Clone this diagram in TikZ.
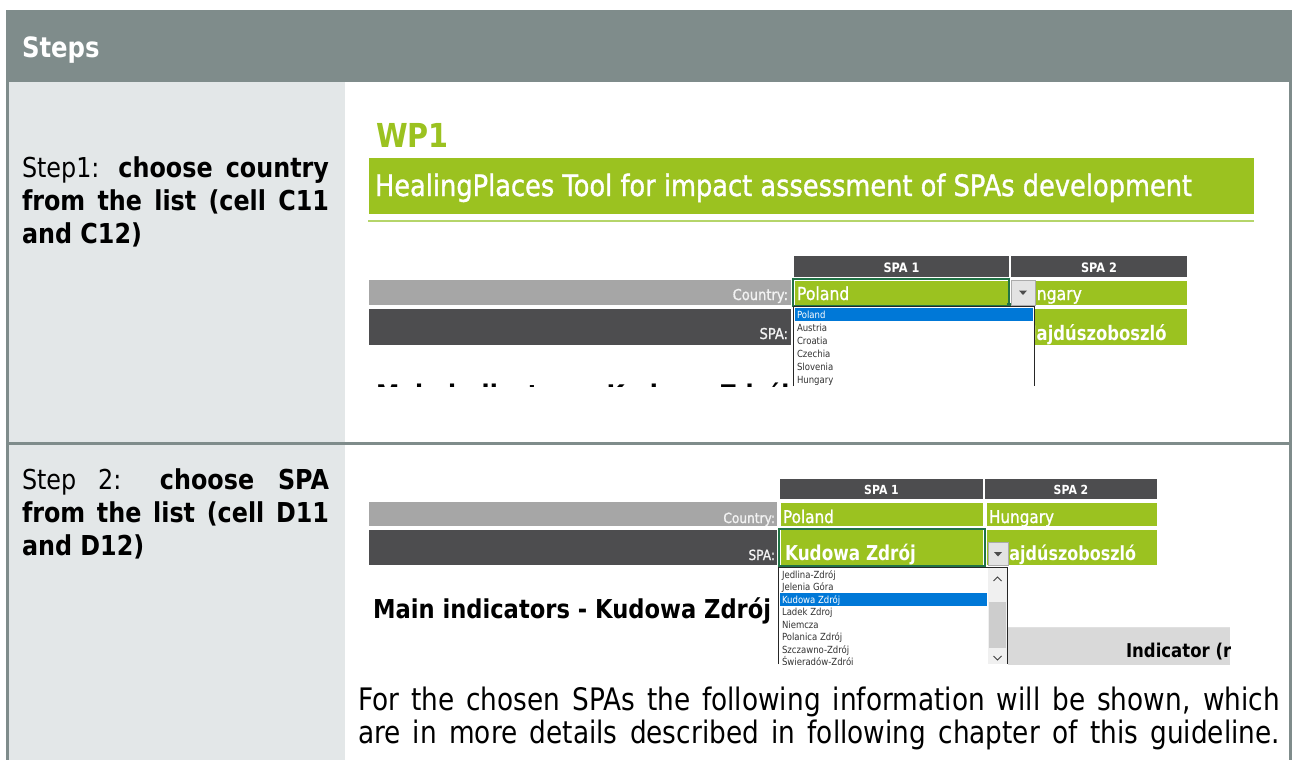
\documentclass[tikz,border=0pt]{standalone}
\usepackage{fontspec}
\setmainfont{DejaVu Sans}[FakeStretch=0.87]
\newfontfamily\parafont{DejaVu Sans}[FakeStretch=0.85]
\newfontfamily\heavyfont{DejaVu Sans}[FakeStretch=0.87,FakeBold=1.2]
\newfontfamily\cellfont{DejaVu Sans}[FakeStretch=0.82]
\newcommand\setfs[1]{\fontsize{#1}{#1}\selectfont}
\newcommand\setfsl[2]{\fontsize{#1}{#2}\selectfont}
\definecolor{hdr}{HTML}{7F8C8B}
\definecolor{leftbg}{HTML}{E3E7E8}
\definecolor{lime}{HTML}{9BC220}
\definecolor{limeline}{HTML}{B5D56A}
\definecolor{darkbar}{HTML}{4D4D4F}
\definecolor{lightbar}{HTML}{A6A6A6}
\definecolor{selgreen}{HTML}{217346}
\definecolor{selblue}{HTML}{0078D7}
\definecolor{btnfill}{HTML}{E3E3E3}
\definecolor{btnline}{HTML}{ABABAB}
\definecolor{itemtxt}{HTML}{333333}
\definecolor{scrollbg}{HTML}{F0F0F0}
\definecolor{thumbc}{HTML}{CDCDCD}
\definecolor{indbox}{HTML}{D9D9D9}
\begin{document}
\begin{tikzpicture}[x=1pt,y=-1pt,
  lbl/.style={inner sep=0pt,outer sep=0pt},
  itemtext/.style={lbl,anchor=base west,text=itemtxt,font=\setfs{9.8}},
  itemsel/.style={itemtext,text=white},
  hdrtext/.style={lbl,anchor=base,text=white,font=\bfseries\setfs{13}},
  bartext/.style={lbl,anchor=base east,text=white!95!black,font=\heavyfont\setfs{15}},
  celltext/.style={lbl,text=white,font=\heavyfont\setfs{18}},
  cellbold/.style={lbl,text=white,font=\cellfont\bfseries\setfs{20}},
  steptext/.style={lbl,anchor=base west,text width=307pt,align=justify,font=\setfsl{27.4}{33}},
  paraline/.style={lbl,anchor=base west,font=\parafont\setfs{31}},
  ddbutton/.style={draw=btnline,fill=btnfill,line width=0.8pt},
  listframe/.style={draw=black!85,line width=1.2pt},
]
\useasboundingbox (0,0) rectangle (1292,760);
\fill[white] (0,0) rectangle (1292,760);
% table frame
\fill[leftbg] (9,82) rectangle (345,760);
\fill[hdr] (6,10) rectangle (1292,82);
\fill[hdr] (6,82) rectangle (9,760);
\fill[hdr] (1289,82) rectangle (1292,760);
\fill[hdr] (9,441.5) rectangle (1289,444.5);
\node[lbl,anchor=base west,text=white,font=\bfseries\setfs{28}] (steps) at (22,57) {Steps};
% left column texts
\node[steptext] (step1) at (22,177) {\hyphenpenalty=10000 Step1: \textbf{choose country from the list (cell C11 and C12)}};
\node[steptext] (step2) at (22,489) {\hyphenpenalty=10000 Step 2: \textbf{choose SPA from the list (cell D11 and D12)}};

% ---------- screenshot 1 ----------
\node[lbl,anchor=base west,text=lime,font=\bfseries\setfs{33}] (wp1) at (376,147) {WP1};
\fill[lime] (369,158) rectangle (1254,214);
\node[lbl,anchor=base west,text=white,font=\heavyfont\setfs{29.5}] (title) at (375,196) {HealingPlaces Tool for impact assessment of SPAs development};
\fill[limeline] (368,220) rectangle (1254,222);
\fill[darkbar] (794,256) rectangle (1009,277);
\fill[darkbar] (1011,256) rectangle (1187,277);
\node[hdrtext] (h1a) at (901.5,272) {SPA 1};
\node[hdrtext] (h1b) at (1099,272) {SPA 2};
\fill[lightbar] (369,280) rectangle (791,305);
\fill[darkbar] (369,309) rectangle (791,345);
\node[bartext] (c1) at (788,300) {Country:};
\node[bartext] (s1) at (788,339) {SPA:};
\fill[lime] (1011,281) rectangle (1187,305);
\fill[lime] (1011,309) rectangle (1187,345);
\fill[lime] (795,281) rectangle (1008,305);
\fill[lime] (795,309) rectangle (1008,345);
\node[celltext,anchor=base west] (hun1) at (1015,300) {Hungary};
\node[cellbold,anchor=base west] (haj1) at (1023,340) {Hajdúszoboszló};
\node[celltext,anchor=base west] (pol1) at (797,300) {Poland};
\draw[selgreen,line width=2pt] (793,279) rectangle (1009,306);
\fill[selgreen] (1007,303) rectangle (1011,307);
\draw[ddbutton] (1011.5,280.5) rectangle (1035,305);
\fill[black!70] (1019,290.5) -- (1027,290.5) -- (1023,295) -- cycle;
\begin{scope}
  \clip (369,360) rectangle (792,386);
  \node[lbl,anchor=base west,font=\bfseries\setfs{27}] (main1) at (376,404) {Main indicators - Kudowa Zdrój};
\end{scope}
\fill[white] (793,306) rectangle (1035,386);
\begin{scope}
  \clip (793,306) rectangle (1035,386);
  \fill[selblue] (795,308) rectangle (1033,321);
  \node[itemsel] (l1a) at (797,318.5) {Poland};
  \node[itemtext] (l1b) at (797,331.5) {Austria};
  \node[itemtext] (l1c) at (797,344.5) {Croatia};
  \node[itemtext] (l1d) at (797,357.5) {Czechia};
  \node[itemtext] (l1e) at (797,370.5) {Slovenia};
  \node[itemtext] (l1f) at (797,383.5) {Hungary};
\end{scope}
\draw[listframe] (793.6,386) -- (793.6,306.6) -- (1034.4,306.6) -- (1034.4,386);

% ---------- screenshot 2 ----------
\fill[darkbar] (780,479) rectangle (983,499);
\fill[darkbar] (985,479) rectangle (1157,499);
\node[hdrtext,font=\bfseries\setfs{12.5}] (h2a) at (881.5,494) {SPA 1};
\node[hdrtext,font=\bfseries\setfs{12.5}] (h2b) at (1071,494) {SPA 2};
\fill[lightbar] (369,502) rectangle (777,526);
\fill[darkbar] (369,530) rectangle (777,565);
\node[bartext,font=\heavyfont\setfs{14}] (c2) at (775,523) {Country:};
\node[bartext,font=\heavyfont\setfs{14}] (s2) at (775,560) {SPA:};
\fill[lime] (781,503) rectangle (983,526);
\fill[lime] (987,503) rectangle (1157,526);
\fill[lime] (781,530) rectangle (983,565);
\fill[lime] (987,530) rectangle (1157,565);
\node[celltext,anchor=base west,font=\heavyfont\setfs{17.5}] (pol2) at (783,523) {Poland};
\node[celltext,anchor=base west,font=\heavyfont\setfs{17.5}] (hun2) at (989,523) {Hungary};
\node[cellbold,anchor=base west,font=\cellfont\bfseries\setfs{20.5}] (kud2) at (785,560) {Kudowa Zdrój};
\begin{scope}
  \clip (987,530) rectangle (1157,565);
  \node[cellbold,anchor=base west,font=\cellfont\bfseries\setfs{19.5}] (haj2) at (996,560) {Hajdúszoboszló};
\end{scope}
\draw[selgreen,line width=2pt] (779,529) rectangle (985,566);
\draw[ddbutton] (988,542) rectangle (1008,565);
\fill[black!70] (994,552) -- (1002,552) -- (998,556.5) -- cycle;
\node[lbl,anchor=base west,font=\bfseries\setfs{26}] (main2) at (373,618) {Main indicators - Kudowa Zdrój};
\fill[white] (778,567) rectangle (1008,664);
\begin{scope}
  \clip (778,567) rectangle (1008,664);
  \fill[scrollbg] (988,568) rectangle (1007,664);
  \fill[thumbc] (989,602) rectangle (1006,648);
  \draw[black!75,line width=0.9pt] (993.5,581) -- (997.5,577) -- (1001.5,581);
  \draw[black!75,line width=0.9pt] (993.5,656) -- (997.5,660) -- (1001.5,656);
  \fill[selblue] (780,593) rectangle (987,606);
  \node[itemtext] (l2a) at (782,578) {Jedlina-Zdrój};
  \node[itemtext] (l2b) at (782,590.5) {Jelenia Góra};
  \node[itemsel] (l2c) at (782,603) {Kudowa Zdrój};
  \node[itemtext] (l2d) at (782,615.5) {Ladek Zdroj};
  \node[itemtext] (l2e) at (782,628) {Niemcza};
  \node[itemtext] (l2f) at (782,640.5) {Polanica Zdrój};
  \node[itemtext] (l2g) at (782,653) {Szczawno-Zdrój};
  \node[itemtext] (l2h) at (782,665.5) {Świeradów-Zdrój};
\end{scope}
\draw[listframe] (778.6,664) -- (778.6,567.6) -- (1007.4,567.6) -- (1007.4,664);
\fill[indbox] (1008,627) rectangle (1230,665);
\draw[white!88!black,line width=1pt] (1008,627.5) -- (1230,627.5);
\begin{scope}
  \clip (1008,627) rectangle (1230,665);
  \node[lbl,anchor=base west,font=\bfseries\setfs{19}] (ind) at (1126,657) {Indicator (r};
\end{scope}

% paragraph
\node[paraline] (para1) at (358,710) {\makebox[922pt][s]{For the chosen SPAs the following information will be shown, which}};
\node[paraline] (para2) at (358,743) {\makebox[922pt][s]{are in more details described in following chapter of this guideline.}};
\end{tikzpicture}
\end{document}
